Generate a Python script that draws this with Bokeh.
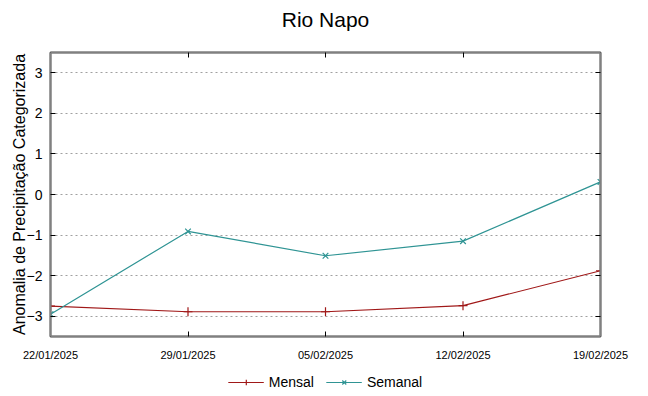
from bokeh.plotting import figure
from bokeh.layouts import column
from bokeh.models import (FixedTicker, LinearAxis, Legend, LegendItem, Range1d)
from bokeh.embed import file_html
from bokeh.resources import INLINE

# ---- data ----
dates = ["22/01/2025", "29/01/2025", "05/02/2025", "12/02/2025", "19/02/2025"]
mensal = [-2.75, -2.89, -2.89, -2.74, -1.88]
semanal = [-2.95, -0.91, -1.51, -1.15, 0.31]
y_ticks = [-3, -2, -1, 0, 1, 2, 3]
series_names = ["Mensal", "Semanal"]

title_txt = "Rio Napo"
ylabel_txt = "Anomalia de Precipitação Categorizada"

x = list(range(len(dates)))

FONT = "Liberation Sans"
RED = "#a01818"
TEAL = "#2f9494"
FRAME = "#808080"

p = figure(width=640, height=366, output_backend="svg", toolbar_location=None,
           x_range=Range1d(0, len(dates) - 1), y_range=Range1d(-3.5, 3.5),
           min_border_left=50, min_border_right=40, min_border_top=52,
           min_border_bottom=30)

p.background_fill_color = "white"
p.border_fill_color = "white"
p.outline_line_color = FRAME
p.outline_line_width = 2

# grids
p.xgrid.visible = False
p.ygrid.ticker = FixedTicker(ticks=y_ticks)
p.ygrid.grid_line_color = "#a0a0a0"
p.ygrid.grid_line_dash = "2 3"
p.ygrid.grid_line_width = 1

# axes
xa = p.xaxis[0]
xa.ticker = FixedTicker(ticks=x)
xa.major_label_overrides = {i: d for i, d in zip(x, dates)}
xa.major_label_text_font = FONT
xa.major_label_text_font_size = "11px"
xa.major_label_text_color = "#000000"
xa.major_label_standoff = 12
xa.major_tick_in = 5
xa.major_tick_out = 0
xa.minor_tick_line_color = None
xa.axis_line_color = FRAME
xa.axis_line_width = 2
xa.major_tick_line_color = "black"

ya = p.yaxis[0]
ya.ticker = FixedTicker(ticks=y_ticks)
ya.major_label_text_font = FONT
ya.major_label_text_font_size = "14px"
ya.major_label_text_color = "#000000"
ya.major_label_standoff = 8
ya.major_tick_in = 5
ya.major_tick_out = 0
ya.minor_tick_line_color = None
ya.axis_line_color = FRAME
ya.axis_line_width = 2
ya.major_tick_line_color = "black"
ya.axis_label = ylabel_txt
ya.axis_label_text_font = FONT
ya.axis_label_text_font_size = "16px"
ya.axis_label_text_font_style = "normal"
ya.axis_label_text_color = "#000000"
ya.axis_label_standoff = -4

# mirrored axes (ticks only); the top one carries the chart title
ra = LinearAxis(ticker=FixedTicker(ticks=y_ticks), major_tick_in=5, major_tick_out=0,
                minor_tick_line_color=None, major_label_text_color=None,
                major_label_standoff=0, axis_line_color=FRAME, axis_line_width=2)
ra.major_label_overrides = {t: "" for t in y_ticks}
p.add_layout(ra, "right")
ta = LinearAxis(ticker=FixedTicker(ticks=x), major_tick_in=5, major_tick_out=0,
                minor_tick_line_color=None, major_label_text_color=None,
                major_label_standoff=0, axis_line_color=FRAME, axis_line_width=2,
                axis_label=title_txt, axis_label_text_font=FONT,
                axis_label_text_font_size="21px", axis_label_text_font_style="normal",
                axis_label_text_color="#000000", axis_label_standoff=22)
ta.major_label_overrides = {i: "" for i in x}
p.add_layout(ta, "above")

# series
p.line(x, mensal, line_color=RED, line_width=1.2)
p.scatter(x, mensal, marker="cross", size=9, line_color=RED, line_width=1.2)
p.line(x, semanal, line_color=TEAL, line_width=1.2)
p.scatter(x, semanal, marker="x", size=8, line_color=TEAL, line_width=1.2)

# legend strip (proxy renderers lie outside the visible range)
lg = figure(width=640, height=28, output_backend="svg", toolbar_location=None,
            x_range=Range1d(0, 1), y_range=Range1d(0, 1),
            min_border_left=0, min_border_right=0, min_border_top=0, min_border_bottom=0)
lg.axis.visible = False
lg.grid.visible = False
lg.outline_line_color = None
lg.background_fill_color = "white"
lg.border_fill_color = "white"
px, py = [-5, -4], [-5, -4]
d1 = lg.line(px, py, line_color=RED, line_width=1.2)
e1 = lg.scatter(px, py, marker="cross", size=9, line_color=RED, line_width=1.2)
d2 = lg.line(px, py, line_color=TEAL, line_width=1.2)
e2 = lg.scatter(px, py, marker="x", size=8, line_color=TEAL, line_width=1.2)
legend = Legend(items=[LegendItem(label=series_names[0], renderers=[d1, e1]),
                       LegendItem(label=series_names[1], renderers=[d2, e2])],
                orientation="horizontal", location="top_center",
                label_text_font=FONT, label_text_font_size="14px",
                label_text_color="#000000", glyph_width=36, glyph_height=14,
                spacing=12, padding=0, margin=8,
                border_line_color=None, background_fill_alpha=0)
lg.add_layout(legend)

open("out.html", "w").write(file_html(column(p, lg, spacing=0), INLINE))
